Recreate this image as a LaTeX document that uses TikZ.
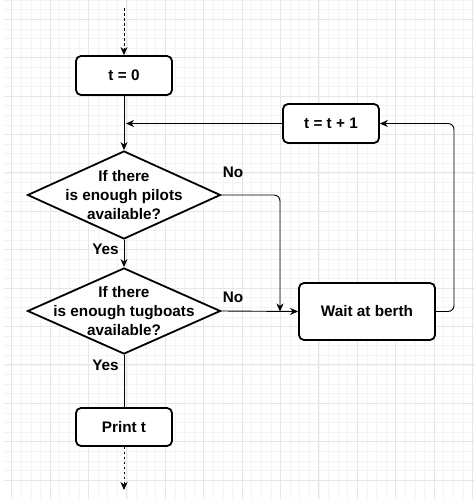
\documentclass[tikz,border=0pt]{standalone}
\usepackage{fontspec}
\setmainfont{Liberation Sans}
\usetikzlibrary{shapes.geometric,arrows.meta}

\definecolor{gridminor}{HTML}{F4F4F4}
\definecolor{gridmajor}{HTML}{E6E6E6}

\tikzset{
  txt/.style={font=\fontsize{15.3}{18.6}\selectfont\bfseries, align=center, inner sep=0pt},
  procbox/.style={draw, line width=1.8pt, rounded corners=5pt, fill=white, inner sep=0pt},
  decision/.style={draw, shape=diamond, line width=1.8pt, fill=white, inner sep=0pt},
  conn/.style={line width=0.9pt, -{Stealth[length=8pt,width=7pt,inset=2.5pt]}},
  plainconn/.style={line width=0.9pt},
  dotconn/.style={line width=0.9pt, dash pattern=on 2.5pt off 2.5pt, -{Stealth[length=8pt,width=7pt,inset=2.5pt]}},
}

\begin{document}
\begin{tikzpicture}[x=1pt,y=-1pt]
  \useasboundingbox (0,0) rectangle (475,499);
  \fill[white] (0,0) rectangle (475,499);

  % background grid
  \begin{scope}
    \clip (4,0) rectangle (475,499);
    \foreach \i in {0,...,49} {
      \draw[gridminor, line width=0.8pt] ({2.1+9.6*\i},0) -- ({2.1+9.6*\i},499);
      \draw[gridminor, line width=0.8pt] (0,{0.1+9.6*\i}) -- (475,{0.1+9.6*\i});
    }
    \foreach \i in {0,...,12} {
      \draw[gridmajor, line width=0.9pt] ({11.7+38.4*\i},0) -- ({11.7+38.4*\i},499);
      \draw[gridmajor, line width=0.9pt] (0,{19.3+38.4*\i}) -- (475,{19.3+38.4*\i});
    }
  \end{scope}

  % nodes
  \coordinate (top) at (124,8);
  \coordinate (bottom) at (124,490);
  \node[procbox, minimum width=96pt, minimum height=39pt] (t0) at (124,75.5) {};
  \node[txt] at (t0) {t = 0};
  \node[decision, minimum width=193pt, minimum height=88pt] (d1) at (124,195) {};
  \node[txt] at (d1) {If there\\is enough pilots\\available?};
  \node[decision, minimum width=193pt, minimum height=86pt] (d2) at (124,311) {};
  \node[txt] at (d2) {If there\\is enough tugboats\\available?};
  \node[procbox, minimum width=96pt, minimum height=38pt] (pr) at (124,427) {};
  \node[txt] at (pr) {Print t};
  \node[procbox, minimum width=96pt, minimum height=39pt] (inc) at (331,123.5) {};
  \node[txt] at (inc) {t = t + 1};
  \node[procbox, minimum width=136pt, minimum height=57pt] (wait) at (367,311.5) {};
  \node[txt] at (wait) {Wait at berth};

  \coordinate (merge) at (126,123.5);
  \coordinate (join) at (280,311.5);

  % connectors
  \draw[dotconn] (top) -- (t0.north);
  \draw[conn] (t0.south) -- (d1.north);
  \draw[conn] (inc.west) -- (merge);
  \draw[conn] (d1.south) -- (d2.north);
  \node[txt] at (105.5,249.5) {Yes};
  \draw[plainconn] (d2.south) -- (pr.north);
  \node[txt] at (105.5,365) {Yes};
  \draw[dotconn] (pr.south) -- (bottom);

  \draw[conn, rounded corners=6pt] (d1.east) -- (join |- d1.east) -- (join);
  \node[txt] at (233,172) {No};
  \draw[conn] (d2.east) -- (wait.west);
  \node[txt] at (233,297) {No};

  \draw[conn, rounded corners=6pt] (wait.east) -- (454,311.5) -- (454,123.5) -- (inc.east);
\end{tikzpicture}
\end{document}
